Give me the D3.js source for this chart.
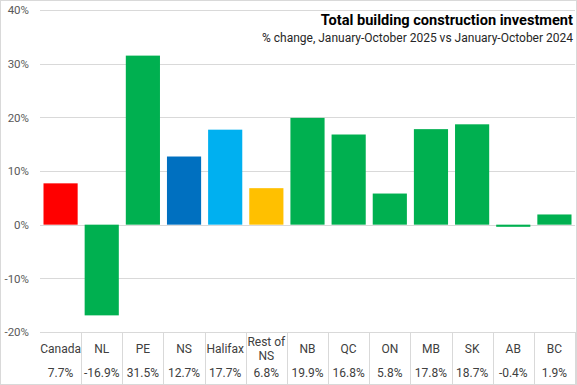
<!DOCTYPE html>
<html><head><meta charset="utf-8">
<script src="https://cdn.jsdelivr.net/npm/d3@7"></script>
<style>body{margin:0;background:#fff}svg{display:block}</style>
</head><body>
<svg id="c" width="577" height="385"></svg>
<script>
const categories = ["Canada","NL","PE","NS","Halifax","Rest of NS","NB","QC","ON","MB","SK","AB","BC"];
const values = [7.7,-16.9,31.5,12.7,17.7,6.8,19.9,16.8,5.8,17.8,18.7,-0.4,1.9];
const valueLabels = ["7.7%","-16.9%","31.5%","12.7%","17.7%","6.8%","19.9%","16.8%","5.8%","17.8%","18.7%","-0.4%","1.9%"];
const colors = ["#FF0000","#00B050","#00B050","#0070C0","#00B0F0","#FFC000","#00B050","#00B050","#00B050","#00B050","#00B050","#00B050","#00B050"];
const yTicks = [-20,-10,0,10,20,30,40];
const title = "Total building construction investment";
const subtitle = "% change, January-October 2025 vs January-October 2024";

const svg = d3.select("#c");
const font = "'Liberation Sans Narrow','Roboto','Liberation Sans',sans-serif";
const L = 40, R = 575, T = 10, B = 332;
const x = d3.scaleBand().domain(categories).range([L, R]).paddingInner(0.17).paddingOuter(0.085);
const xc = d3.scaleBand().domain(categories).range([L, R]);
const y = d3.scaleLinear().domain([-20, 40]).range([B, T]);

svg.append("rect").attr("x",0.5).attr("y",0.5).attr("width",576).attr("height",384)
  .attr("fill","#fff").attr("stroke","#d9d9d9");

// gridlines
svg.append("g").selectAll("line").data(yTicks).join("line")
  .attr("x1",L).attr("x2",R).attr("y1",d=>Math.round(y(d))+0.5).attr("y2",d=>Math.round(y(d))+0.5)
  .attr("stroke","#d9d9d9").attr("stroke-width",1);

// y axis labels
const yAxis = d3.axisLeft(y).tickValues(yTicks).tickFormat(d=>d+"%").tickSize(0).tickPadding(11);
const ga = svg.append("g").attr("transform",`translate(${L},0)`).call(yAxis);
ga.select(".domain").remove();
ga.selectAll("text").attr("font-family",font).attr("font-size","11.5px").attr("fill","#595959");

// bars
svg.append("g").selectAll("rect").data(categories).join("rect")
  .attr("x",d=>x(d)).attr("width",x.bandwidth())
  .attr("y",(d,i)=>y(Math.max(0,values[i])))
  .attr("height",(d,i)=>Math.abs(y(values[i])-y(0)))
  .attr("fill",(d,i)=>colors[i]);

// table
const tb = svg.append("g");
tb.append("line").attr("x1",L).attr("x2",R).attr("y1",B+0.5).attr("y2",B+0.5).attr("stroke","#d9d9d9");
tb.selectAll("line.v").data(categories).join("line").attr("class","v")
  .attr("x1",d=>Math.round(xc(d)+xc.bandwidth())+0.5).attr("x2",d=>Math.round(xc(d)+xc.bandwidth())+0.5)
  .attr("y1",B).attr("y2",384).attr("stroke","#d9d9d9");
tb.selectAll("text.cat").data(categories).join("text").attr("class","cat")
  .attr("x",d=>xc(d)+xc.bandwidth()/2).attr("text-anchor","middle")
  .attr("font-family",font).attr("font-size","12px").attr("fill","#404040")
  .each(function(d){
    const t = d3.select(this);
    if (d === "Rest of NS") {
      t.append("tspan").attr("x",xc(d)+xc.bandwidth()/2).attr("y",346).text("Rest of");
      t.append("tspan").attr("x",xc(d)+xc.bandwidth()/2).attr("y",360).text("NS");
    } else {
      t.attr("y",353).text(d);
    }
  });
tb.selectAll("text.val").data(categories).join("text").attr("class","val")
  .attr("x",d=>xc(d)+xc.bandwidth()/2).attr("y",377).attr("text-anchor","middle")
  .attr("font-family",font).attr("font-size","12px").attr("fill","#404040")
  .text((d,i)=>valueLabels[i]);

// titles
svg.append("text").attr("x",573).attr("y",25).attr("text-anchor","end")
  .attr("font-family",font).attr("font-weight","bold").attr("font-size","14.6px").attr("fill","#000")
  .text(title);
svg.append("text").attr("x",573).attr("y",42).attr("text-anchor","end")
  .attr("font-family",font).attr("font-size","12px").attr("fill","#262626")
  .text(subtitle);
</script>
</body></html>
